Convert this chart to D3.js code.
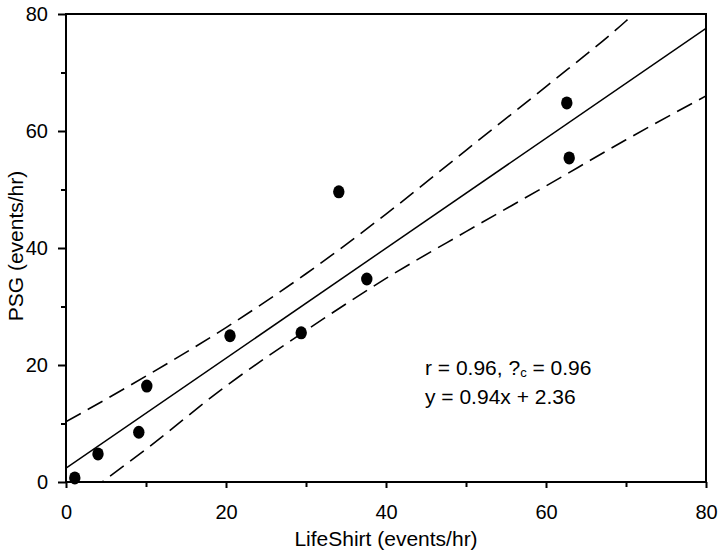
<!DOCTYPE html>
<html><head><meta charset="utf-8">
<script src="https://cdn.jsdelivr.net/npm/d3@7/dist/d3.min.js"></script>
<style>body{margin:0;background:#fff}svg{display:block}text{font-family:Arial,"Liberation Sans",sans-serif;fill:#000}</style>
</head><body><svg id="c" width="721" height="558"></svg>
<script>
const lifeShirt = [1.1, 4.0, 9.1, 10.1, 20.5, 29.4, 34.1, 37.6, 62.6, 62.9];
const psg       = [0.7, 4.8, 8.5, 16.4, 25.0, 25.5, 49.6, 34.7, 64.8, 55.4];
const fitX = [0, 80];
const slope = 0.94, intercept = 2.36;
const upperX = [0, 10, 20, 30, 40, 50, 60, 70, 72];
const upperY = [10.3, 18.1, 26.4, 35.6, 45.8, 56.7, 67.6, 78.8, 81.3];
const lowerX = [3, 10, 20, 30, 40, 50, 60, 70, 80];
const lowerY = [-1.5, 5.6, 16.4, 25.9, 34.8, 42.8, 50.6, 58.5, 66.0];
const xTicks = [0, 20, 40, 60, 80];
const yTicks = [0, 20, 40, 60, 80];
const minorTicks = [10, 30, 50, 70];
const annot1 = ["r = 0.96, ?", "c", " = 0.96"];
const annot2 = "y = 0.94x + 2.36";

const svg = d3.select("#c");
const L = 66, R = 706, T = 14, B = 482;
const x = d3.scaleLinear().domain([0, 80]).range([L, R]);
const y = d3.scaleLinear().domain([0, 80]).range([B, T]);

svg.append("clipPath").attr("id","clip").append("rect")
  .attr("x", L).attr("y", T).attr("width", R-L).attr("height", B-T);

const g = svg.append("g").attr("clip-path","url(#clip)");
const line = d3.line().curve(d3.curveMonotoneX);
g.append("path").attr("d", line(upperX.map((v,i)=>[x(v), y(upperY[i])])))
  .attr("fill","none").attr("stroke","#000").attr("stroke-width",1.6).attr("stroke-dasharray","17,8");
g.append("path").attr("d", line(lowerX.map((v,i)=>[x(v), y(lowerY[i])])))
  .attr("fill","none").attr("stroke","#000").attr("stroke-width",1.6).attr("stroke-dasharray","17,8");
g.append("path").attr("d", line(fitX.map(v=>[x(v), y(slope*v+intercept)])))
  .attr("fill","none").attr("stroke","#000").attr("stroke-width",1.5);

svg.append("g").selectAll("ellipse").data(lifeShirt).join("ellipse")
  .attr("cx",(d)=>x(d)).attr("cy",(d,i)=>y(psg[i])).attr("rx",5.7).attr("ry",6.5).attr("fill","#000");

// frame
svg.append("rect").attr("x",L).attr("y",T).attr("width",R-L).attr("height",B-T)
  .attr("fill","none").attr("stroke","#000").attr("stroke-width",2);

// axes
const yAxis = d3.axisLeft(y).tickValues(yTicks).tickSize(8).tickPadding(10).tickFormat(d3.format("d"));
const gy = svg.append("g").attr("transform",`translate(${L},0)`).call(yAxis);
const xAxis = d3.axisBottom(x).tickValues(xTicks).tickSize(6).tickPadding(8).tickFormat(d3.format("d"));
const gx = svg.append("g").attr("transform",`translate(0,${B})`).call(xAxis);
[gx, gy].forEach(a=>{
  a.select(".domain").remove();
  a.selectAll(".tick line").attr("stroke","#000").attr("stroke-width",2);
  a.selectAll("text").style("font-size","20px").attr("fill","#000");
});
gx.selectAll("text").attr("dy","0.71em").attr("y",23);
svg.append("g").attr("transform",`translate(${L},0)`).call(d3.axisLeft(y).tickValues(minorTicks).tickSize(5).tickFormat(""))
  .call(a=>{a.select(".domain").remove(); a.selectAll("line").attr("stroke","#000").attr("stroke-width",2);});
svg.append("g").attr("transform",`translate(0,${B})`).call(d3.axisBottom(x).tickValues(minorTicks).tickSize(5).tickFormat(""))
  .call(a=>{a.select(".domain").remove(); a.selectAll("line").attr("stroke","#000").attr("stroke-width",2);});

// titles
svg.append("text").attr("x",386).attr("y",546).attr("text-anchor","middle").style("font-size","21px").text("LifeShirt (events/hr)");
svg.append("text").attr("transform","translate(23,246) rotate(-90)").attr("text-anchor","middle").style("font-size","21px").text("PSG (events/hr)");

// annotation
const t1 = svg.append("text").attr("x",425).attr("y",375).style("font-size","21px");
t1.append("tspan").text(annot1[0]);
t1.append("tspan").attr("dy",2).style("font-size","13px").text(annot1[1]);
t1.append("tspan").attr("dy",-2).text(annot1[2]);
svg.append("text").attr("x",425).attr("y",404).style("font-size","21px").text(annot2);
</script></body></html>
